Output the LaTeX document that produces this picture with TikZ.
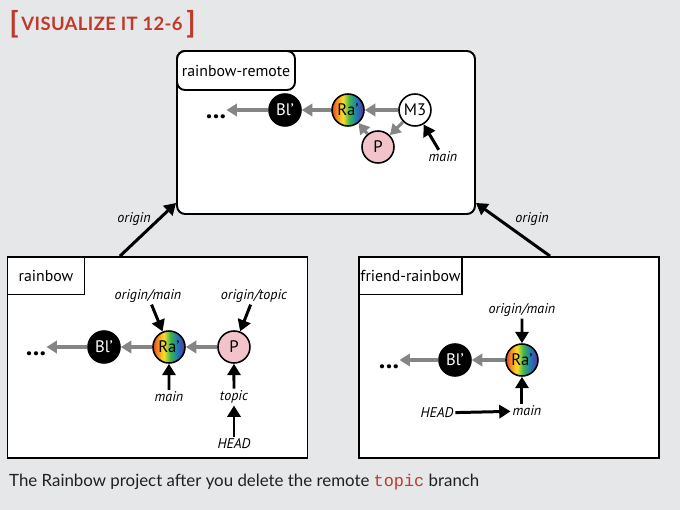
\documentclass[tikz,border=0pt]{standalone}
\usepackage{fontspec}
\setmainfont{PT Sans}
\newfontfamily\capfont{Lato}
\newfontfamily\titlefont{Lato}[LetterSpace=2.0]
\setmonofont{Liberation Mono}
\usetikzlibrary{arrows.meta}
\definecolor{bg}{HTML}{E6E7E8}
\definecolor{vred}{HTML}{C0392B}
\definecolor{pinkP}{HTML}{F2C4C9}
\definecolor{lineg}{HTML}{858585}
\definecolor{captxt}{HTML}{231F20}
\definecolor{rbA}{HTML}{E8412C}
\definecolor{rbB}{HTML}{F7931E}
\definecolor{rbC}{HTML}{FDE02A}
\definecolor{rbD}{HTML}{3DB54A}
\definecolor{rbE}{HTML}{1C75BC}
\definecolor{rbF}{HTML}{6A2C91}
\pgfdeclarehorizontalshading{rnbw}{100bp}{color(0bp)=(rbA); color(25bp)=(rbA);
  color(33bp)=(rbB); color(42bp)=(rbC); color(52bp)=(rbD); color(64bp)=(rbE);
  color(75bp)=(rbF); color(100bp)=(rbF)}

\begin{document}
\begin{tikzpicture}[x=0.02cm, y=-0.02cm, node distance=1.3cm,
  commit/.style={circle, draw, line width=0.9pt, minimum size=0.64cm, inner sep=0pt, font=\fontsize{9.5}{10}\selectfont},
  rnb/.style={commit, shade, shading=rnbw},
  repo/.style={draw, line width=1.1pt, fill=white, minimum width=6cm, minimum height=4.02cm},
  tag/.style={draw, line width=1.1pt, fill=white, anchor=north west, minimum height=0.75cm, inner sep=0pt, font=\fontsize{9}{10}\selectfont},
  ref/.style={font=\itshape\fontsize{8}{9}\selectfont, inner sep=1pt},
  dots/.style={font=\bfseries\fontsize{15}{15}\selectfont, inner sep=0pt},
  toparent/.style={-{Triangle[length=6pt,width=7pt]}, line width=1.8pt, color=lineg},
  points/.style={-{Triangle[length=6.5pt,width=7.5pt]}, line width=1.7pt, color=black}]
\fill[bg] (0,0) rectangle (680,510);
\node[font=\titlefont\bfseries\fontsize{10.5}{12}\selectfont, text=vred] (V) at (102,24) {VISUALIZE IT 12-6};
\node[font=\capfont\bfseries\fontsize{17}{17}\selectfont, text=vred] (bl) at (14,24) {[};
\node[font=\capfont\bfseries\fontsize{17}{17}\selectfont, text=vred] (br) at (191,24) {]};

\node[repo, rounded corners=0.16cm, minimum width=5.96cm, minimum height=3.26cm] (T) at (326,132.5) {};
\node[tag, rounded corners=0.16cm, minimum width=2.36cm, minimum height=0.78cm] (Tt) at (T.north west) {rainbow-remote};
\node[repo] (L) at (157.5,357.5) {};
\node[tag, minimum width=1.54cm] (Lt) at (L.north west) {rainbow};
\node[repo] (R) at (509,357.5) {};
\node[tag, minimum width=2.06cm] (Rt) at (R.north west) {friend-rainbow};

\node[commit, fill=black, text=white] (Bl) at (285,110) {Bl'};
\node[rnb] (Ra) [right of=Bl, xshift=-0.04cm] {Ra'};
\node[commit, fill=white] (M) [right of=Ra, xshift=0.04cm] {M3};
\node[commit, fill=pinkP] (P) at (378,147) {P};
\node[dots] (d) at (216,117) {...};
\node[ref] (tm) at (443,157) {main};
\path[toparent] (M) edge (Ra) (M) edge (P) (P) edge (Ra)
  (Ra) edge (Bl) (Bl) edge (Bl -| d.east);
\draw[points] (tm) -- (M);

\node[commit, fill=black, text=white] (lB) at (104,347) {Bl'};
\node[rnb] (lR) [right of=lB] {Ra'};
\node[commit, fill=pinkP] (lP) [right of=lR] {P};
\node[dots] (ld) at (36,354) {...};
\node[ref] (lom) at (148,296) {origin/main};
\node[ref] (lot) at (254,296) {origin/topic};
\node[ref] (lm) at (169,397) {main};
\node[ref] (lt) at (234,397) {topic};
\node[ref] (lH) at (234,444) {HEAD};
\path[toparent] (lP) edge (lR) (lR) edge (lB) (lB) edge (lB -| ld.east);
\path[points] (lom) edge (lR) (lot) edge (lP) (lm) edge (lR)
  (lt) edge (lP) (lH) edge (lt);

\node[commit, fill=black, text=white] (rB) at (455,360) {Bl'};
\node[rnb] (rR) [right of=rB, xshift=0.04cm] {Ra'};
\node[dots] (rd) at (389,367) {...};
\node[ref] (rom) at (522,310) {origin/main};
\node[ref] (rm) at (527,411) {main};
\node[ref] (rH) at (437,413) {HEAD};
\path[toparent] (rR) edge (rB) (rB) edge (rB -| rd.east);
\path[points] (rom) edge (rR) (rm.north -| rR) edge (rR) (rH) edge (rm);

\draw[points] ([xshift=-0.75cm]L.north) -- ([yshift=0.24cm]T.south west)
  node[ref, pos=0.7, left=3pt] (lo) {origin};
\draw[points] ([xshift=0.82cm]R.north) -- ([yshift=0.24cm]T.south east)
  node[ref, pos=0.7, right=8pt] (ro) {origin};

\node[anchor=west, text=captxt, font=\capfont\fontsize{9.6}{11}\selectfont] (cap) at (3,482)
  {The Rainbow project after you delete the remote \textcolor{vred}{\texttt{topic}} branch};
\end{tikzpicture}
\end{document}
